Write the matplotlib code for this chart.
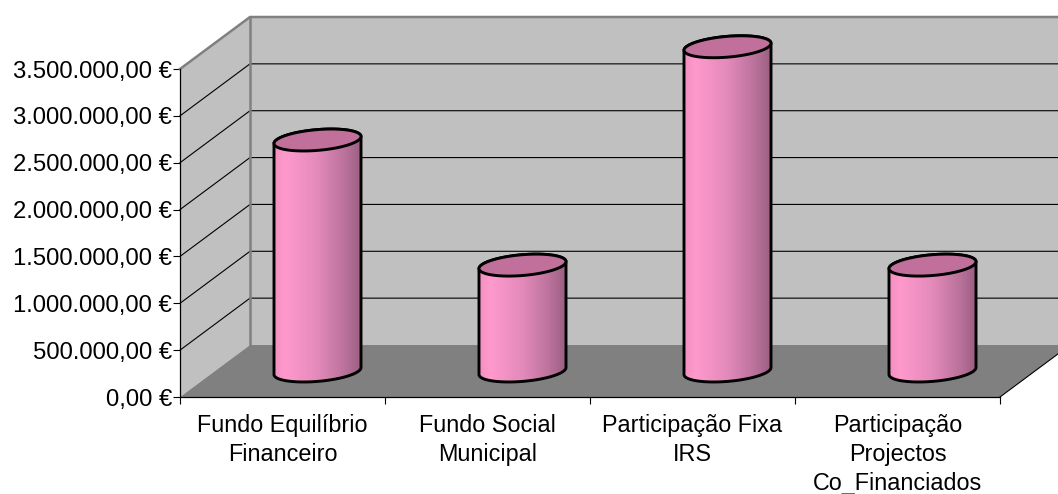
import numpy as np
import matplotlib
matplotlib.use('Agg')
import matplotlib.pyplot as plt
from matplotlib.colors import LinearSegmentedColormap
from matplotlib.patches import Polygon

plt.rcParams['font.family'] = ['Liberation Sans', 'DejaVu Sans']

categorias = ['Fundo Equilíbrio\nFinanceiro', 'Fundo Social\nMunicipal',
              'Participação Fixa\nIRS', 'Participação\nProjectos\nCo_Financiados']
valores = [2465000, 1130000, 3460000, 1130000]
y_ticks = [0, 500000, 1000000, 1500000, 2000000, 2500000, 3000000, 3500000]


def euro(v):
    return f'{v:,.2f}'.replace(',', 'X').replace('.', ',').replace('X', '.') + ' €'


fig = plt.figure(figsize=(10.58, 4.94), dpi=100)
ax = fig.add_axes([180 / 1058, (494 - 397) / 494, 820 / 1058, 328 / 494])
ymax = 3500000
n = len(categorias)

# profundidade van de 3d-look in data-eenheden
dx = 70 / 205
dy = 52 * ymax / 328
x_end = n + dx

# muren en vloer
ax.add_patch(Polygon([(0, 0), (0, ymax), (dx, ymax + dy), (dx, dy)], fc='#C0C0C0', ec='none', clip_on=False, zorder=1))
ax.add_patch(Polygon([(dx, dy), (dx, ymax + dy), (x_end, ymax + dy), (x_end, dy)], fc='#C0C0C0', ec='none', clip_on=False, zorder=1))
ax.add_patch(Polygon([(0, 0), (n, 0), (x_end, dy), (dx, dy)], fc='#808080', ec='none', clip_on=False, zorder=1))

# rasterlijnen
for v in y_ticks[1:-1]:
    ax.plot([0, dx, x_end], [v, v + dy, v + dy], color='black', lw=0.8, clip_on=False, zorder=2)
ax.plot([0, dx, x_end], [ymax, ymax + dy, ymax + dy], color='#808080', lw=1.8, clip_on=False, zorder=2)
ax.plot([dx, dx], [dy, ymax + dy], color='#808080', lw=1.8, clip_on=False, zorder=2)
ax.plot([n, x_end], [0, dy], color='black', lw=0.8, clip_on=False, zorder=2)

# cilinders
kleur = LinearSegmentedColormap.from_list('roze', [(0, '#F28FC0'), (0.12, '#FF99CC'), (0.5, '#E38ABA'),
                                                   (0.85, '#B56F97'), (1, '#9C5F82')])
breedte = 87 / 205
a = breedte / 2
b = 10.4 * ymax / 328
s = 3.5 * ymax / 328
t = np.linspace(0, 2 * np.pi, 200)
onder = np.linspace(np.pi, 2 * np.pi, 100)
boven = np.linspace(0, np.pi, 100)

for i, waarde in enumerate(valores):
    xc = i + 0.5 + dx / 2
    y0 = dy / 2
    y1 = waarde + dy / 2
    xb = xc + a * np.cos(onder)
    yb = y0 + s * np.cos(onder) + b * np.sin(onder)
    xt = xc + a * np.cos(boven)
    yt = y1 + s * np.cos(boven) + b * np.sin(boven)
    lichaam = Polygon(np.column_stack([np.r_[xb, xt], np.r_[yb, yt]]), fc='none', ec='black', lw=2.1,
                      clip_on=False, zorder=4, joinstyle='round')
    ax.add_patch(lichaam)
    # verloop als smalle stroken, geknipt op de cilinder
    randen = np.linspace(xc - a, xc + a, 61)
    mesh = ax.pcolormesh(randen, [y0 - 2 * b, y1 + 2 * b], np.linspace(0, 1, 60).reshape(1, -1), cmap=kleur,
                         zorder=3, antialiased=False, linewidth=0)
    mesh.set_clip_box(None)
    mesh.set_clip_path(lichaam)
    ax.add_patch(Polygon(np.column_stack([xc + a * np.cos(t), y1 + s * np.cos(t) + b * np.sin(t)]),
                         fc='#C0709A', ec='black', lw=2.1, clip_on=False, zorder=5))

ax.set_xlim(0, n)
ax.set_ylim(0, ymax)
ax.spines['top'].set_visible(False)
ax.spines['right'].set_visible(False)
ax.spines['left'].set_linewidth(0.9)
ax.spines['bottom'].set_linewidth(0.9)
ax.set_zorder(2)

ax.set_yticks(y_ticks)
ax.set_yticklabels([euro(v) for v in y_ticks], fontsize=17.2)
ax.tick_params(axis='y', length=4.7, width=0.8, pad=1)

ax.set_xticks(np.arange(n + 1))
ax.set_xticklabels([])
ax.set_xticks(np.arange(n) + 0.5, minor=True)
ax.set_xticklabels(categorias, minor=True, fontsize=16.8, linespacing=1.33)
ax.tick_params(axis='x', which='major', length=5, width=0.8)
ax.tick_params(axis='x', which='minor', length=0, pad=12.5)

fig.savefig('out.png', dpi=100)
